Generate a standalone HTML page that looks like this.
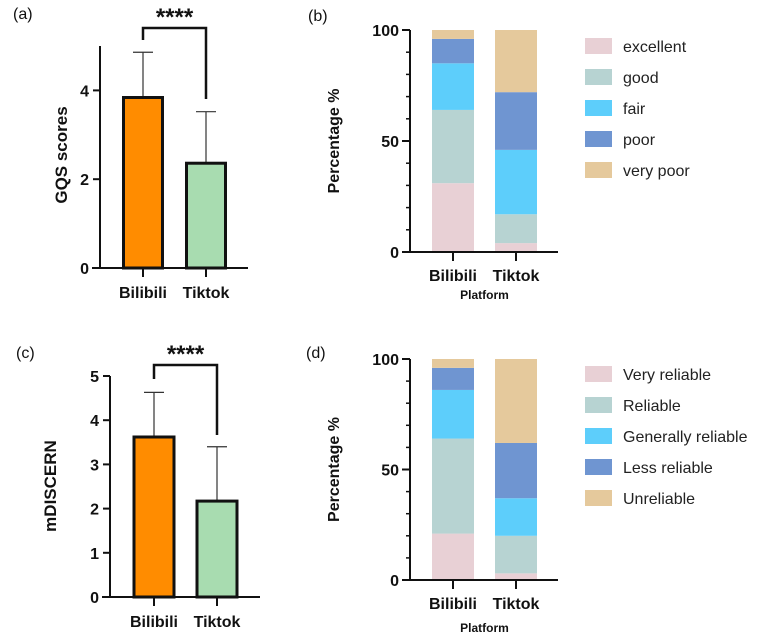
<!DOCTYPE html>
<html><head><meta charset="utf-8"><style>
html,body{margin:0;padding:0;background:#fff;}
svg{display:block;font-family:"Liberation Sans",Arial,sans-serif;}
</style></head><body>
<svg id="fig" width="768" height="639" viewBox="0 0 768 639" xmlns="http://www.w3.org/2000/svg"></svg>
<script>
// ---- data ----
const platforms = ["Bilibili", "Tiktok"];
const gqsMeans = [3.84, 2.36];
const gqsErr = [4.86, 3.52];
const discernMeans = [3.62, 2.17];
const discernErr = [4.63, 3.40];
const qualityCats = ["excellent", "good", "fair", "poor", "very poor"];
const qualityBili = [31, 33, 21, 11, 4];
const qualityTik = [4, 13, 29, 26, 28];
const reliabCats = ["Very reliable", "Reliable", "Generally reliable", "Less reliable", "Unreliable"];
const reliabBili = [21, 43, 22, 10, 4];
const reliabTik = [3, 17, 17, 25, 38];
const gqsTicks = [0, 2, 4];
const discernTicks = [0, 1, 2, 3, 4, 5];
const pctTicks = [0, 50, 100];

const stackColors = ["#e8d0d5", "#b7d3d2", "#5dcefb", "#6f95d1", "#e5c99c"];
const svg = document.getElementById('fig');
const NS = "http://www.w3.org/2000/svg";
function mk(tag, attrs, parent, text) {
  const e = document.createElementNS(NS, tag);
  for (const k in attrs) e.setAttribute(k, attrs[k]);
  if (text !== undefined) e.textContent = text;
  (parent || svg).appendChild(e);
  return e;
}

function barPanel(opt) {
  const g = mk('g', {});
  
  
  const y = v => opt.y0 - (v / opt.max) * (opt.y0 - opt.yTop);
  // panel letter
  const lt = mk('text', {x: opt.letterX, y: opt.letterY, 'font-size': 16, fill: '#111'}, g, opt.letter);
  
  
  // bars
  for (let i = 0; i < 2; i++) {
    const cx = opt.cx[i];
    const top = y(opt.means[i]);
    const eb = mk('line', {x1: cx, x2: cx, y1: top, y2: y(opt.err[i]), stroke: '#333', 'stroke-width': 1.2}, g);
    
    
    mk('line', {x1: cx - 10, x2: cx + 10, y1: y(opt.err[i]), y2: y(opt.err[i]), stroke: '#333', 'stroke-width': 1.2}, g);
    const r = mk('rect', {x: cx - opt.bw / 2, y: top, width: opt.bw, height: opt.y0 - top, fill: opt.colors[i], stroke: '#111', 'stroke-width': 3}, g);
    
    
  }
  // axes
  mk('line', {x1: opt.ax, x2: opt.ax, y1: opt.yTop, y2: opt.y0, stroke: '#111', 'stroke-width': 2}, g);
  mk('line', {x1: opt.ax - 8, x2: opt.xEnd, y1: opt.y0, y2: opt.y0, stroke: '#111', 'stroke-width': 2}, g);
  opt.ticks.forEach(t => {
    mk('line', {x1: opt.ax - 7, x2: opt.ax, y1: y(t), y2: y(t), stroke: '#111', 'stroke-width': 2}, g);
    const tl = mk('text', {x: opt.ax - 11, y: y(t) + 6, 'text-anchor': 'end', 'font-size': 16, 'font-weight': 'bold', fill: '#111'}, g, t);
    
    
  });
  platforms.forEach((p, i) => {
    mk('line', {x1: opt.cx[i], x2: opt.cx[i], y1: opt.y0, y2: opt.y0 + 9, stroke: '#111', 'stroke-width': 2}, g);
    const xl = mk('text', {x: opt.cx[i], y: opt.y0 + 30, 'text-anchor': 'middle', 'font-size': 16, 'font-weight': 'bold', fill: '#111'}, g, p);
    
    
  });
  const yt = mk('text', {x: 0, y: 0, transform: `translate(${opt.ylabX},${opt.ylabY}) rotate(-90)`, 'text-anchor': 'middle', 'font-size': 17, 'font-weight': 'bold', fill: '#111'}, g, opt.ylabel);
  
  
  // significance bracket
  const br = mk('path', {d: `M${opt.cx[0]},${opt.brL} V${opt.brTop} H${opt.cx[1]} V${opt.brR}`, fill: 'none', stroke: '#111', 'stroke-width': 2.5}, g);
  
  
  const st = mk('text', {x: (opt.cx[0] + opt.cx[1]) / 2, y: opt.brTop - 3, 'text-anchor': 'middle', 'font-size': 24, 'font-weight': 'bold', fill: '#111'}, g, '****');
  
  
}

function stackPanel(opt) {
  const g = mk('g', {});
  
  
  const y = v => opt.y0 - (v / 100) * (opt.y0 - opt.yTop);
  const lt = mk('text', {x: opt.letterX, y: opt.letterY, 'font-size': 16, fill: '#111'}, g, opt.letter);
  
  
  [opt.bili, opt.tik].forEach((vals, i) => {
    let acc = 0;
    vals.forEach((v, j) => {
      const r = mk('rect', {x: opt.cx[i] - 21, y: y(acc + v), width: 42, height: y(acc) - y(acc + v), fill: stackColors[j]}, g);
      
      
      acc += v;
    });
  });
  mk('line', {x1: opt.ax, x2: opt.ax, y1: opt.yTop, y2: opt.y0, stroke: '#111', 'stroke-width': 2}, g);
  mk('line', {x1: opt.ax - 8, x2: opt.xEnd, y1: opt.y0, y2: opt.y0, stroke: '#111', 'stroke-width': 2}, g);
  for (let t = 0; t <= 100; t += 10) {
    mk('line', {x1: opt.ax - 4, x2: opt.ax, y1: y(t), y2: y(t), stroke: '#111', 'stroke-width': 1.5}, g);
  }
  pctTicks.forEach(t => {
    mk('line', {x1: opt.ax - 8, x2: opt.ax, y1: y(t), y2: y(t), stroke: '#111', 'stroke-width': 2}, g);
    const tl = mk('text', {x: opt.ax - 11, y: y(t) + 6, 'text-anchor': 'end', 'font-size': 16, 'font-weight': 'bold', fill: '#111'}, g, t);
    
    
  });
  platforms.forEach((p, i) => {
    mk('line', {x1: opt.cx[i], x2: opt.cx[i], y1: opt.y0, y2: opt.y0 + 9, stroke: '#111', 'stroke-width': 2}, g);
    const xl = mk('text', {x: opt.cx[i], y: opt.y0 + 29, 'text-anchor': 'middle', 'font-size': 16, 'font-weight': 'bold', fill: '#111'}, g, p);
    
    
  });
  const xt = mk('text', {x: (opt.cx[0] + opt.cx[1]) / 2, y: opt.y0 + opt.platDy, 'text-anchor': 'middle', 'font-size': 12, 'font-weight': 'bold', fill: '#111'}, g, 'Platform');
  
  
  const yt = mk('text', {x: 0, y: 0, transform: `translate(${opt.ax - 71},${(opt.y0 + opt.yTop) / 2}) rotate(-90)`, 'text-anchor': 'middle', 'font-size': 16, 'font-weight': 'bold', fill: '#111'}, g, 'Percentage %');
  
  
  opt.cats.forEach((c, j) => {
    const cy = opt.legY + j * 31;
    const sw = mk('rect', {x: 585, y: cy - 8, width: 27, height: 16, fill: stackColors[j]}, g);
    
    
    const lt2 = mk('text', {x: 623, y: cy + 6, 'font-size': 16, fill: '#222'}, g, c);
    
    
  });
}

barPanel({name: 'panel-a-gqs-chart', letter: '(a)', letterX: 13, letterY: 19, means: gqsMeans, err: gqsErr, max: 5, ticks: gqsTicks,
  y0: 268, yTop: 46, ax: 100, xEnd: 248, cx: [143, 206], bw: 39, colors: ['#ff8c00', '#a8dcb0'],
  ylabel: 'GQS scores', ylabX: 67, ylabY: 155, brL: 40, brTop: 28, brR: 99});
barPanel({name: 'panel-c-mdiscern-chart', letter: '(c)', letterX: 16, letterY: 358, means: discernMeans, err: discernErr, max: 5, ticks: discernTicks,
  y0: 597, yTop: 376, ax: 110, xEnd: 260, cx: [154, 217], bw: 40, colors: ['#ff8c00', '#a8dcb0'],
  ylabel: 'mDISCERN', ylabX: 56, ylabY: 486, brL: 379, brTop: 365, brR: 435});
stackPanel({name: 'panel-b-gqs-distribution', letter: '(b)', letterX: 308, letterY: 21, cats: qualityCats, bili: qualityBili, tik: qualityTik,
  y0: 252, yTop: 30, ax: 410, xEnd: 558, cx: [453, 516], platDy: 47, legY: 46});
stackPanel({name: 'panel-d-reliability-distribution', letter: '(d)', letterX: 306, letterY: 358, cats: reliabCats, bili: reliabBili, tik: reliabTik,
  y0: 580, yTop: 359, ax: 410, xEnd: 558, cx: [453, 516], platDy: 52, legY: 374});
</script>
</body></html>
